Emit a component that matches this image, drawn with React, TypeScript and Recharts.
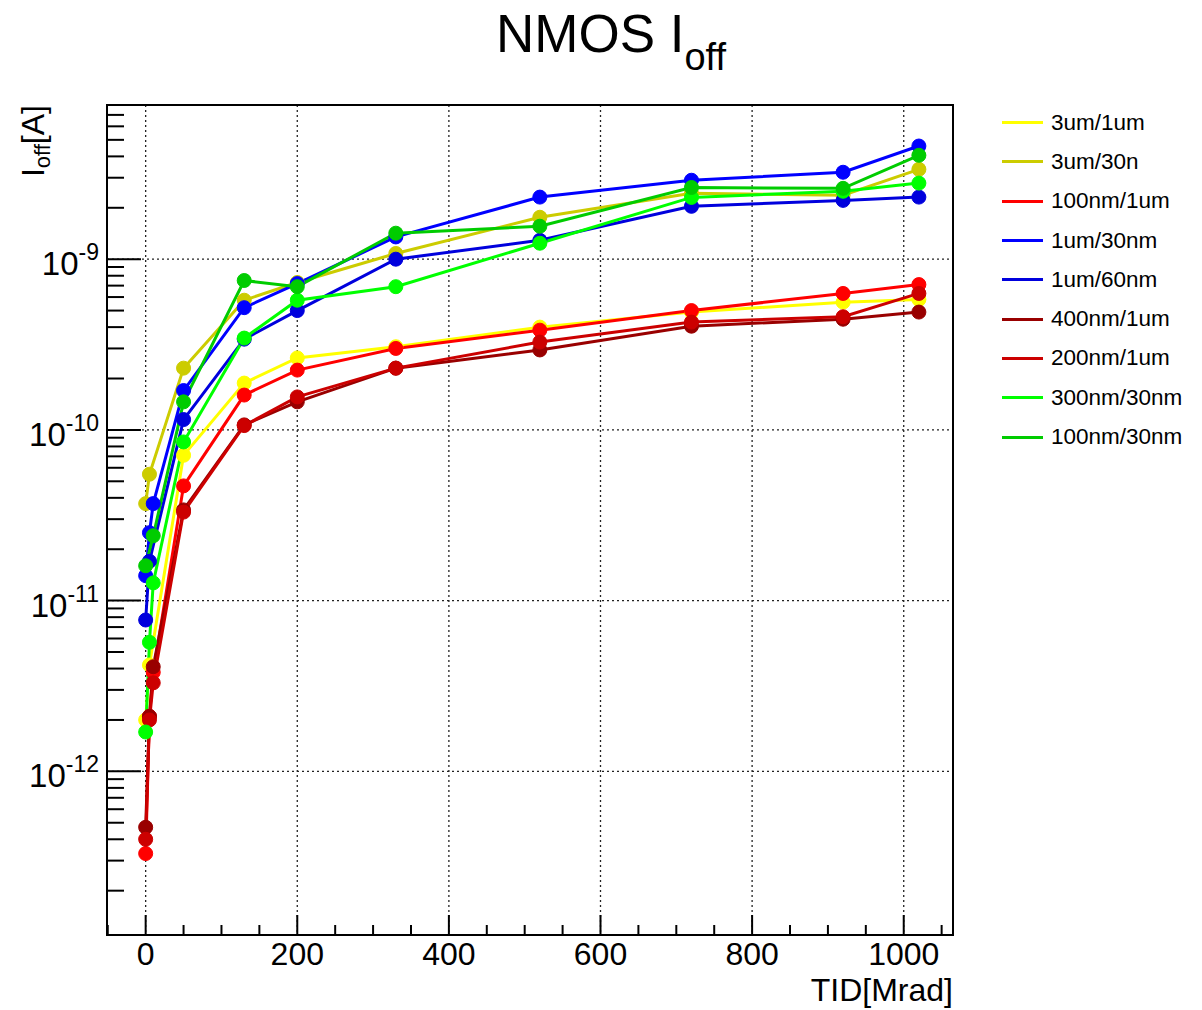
import React from 'react';
import { LineChart, Line, XAxis, YAxis, CartesianGrid, ReferenceArea, Legend } from 'recharts';

// TID steps [Mrad] used by the different devices
const tidA = [0, 5, 10, 50, 130, 200, 330, 520, 720, 920, 1020];
const tidB = [0, 5, 50, 130, 200, 330, 520, 720, 920, 1020];
const tidC = [0, 10, 50, 130, 200, 330, 520, 720, 920, 1020];

// Ioff [A]
const ioff3u1u = [2.0e-12, 4.2e-12, 7.1e-11, 1.88e-10, 2.64e-10, 3.07e-10, 4.0e-10, 4.9e-10, 5.6e-10, 5.8e-10];
const ioff3u30n = [3.7e-11, 5.5e-11, 2.3e-10, 5.75e-10, 7.3e-10, 1.08e-9, 1.76e-9, 2.43e-9, 2.37e-9, 3.36e-9];
const ioff100n1u = [3.3e-13, 2.1e-12, 3.8e-12, 4.7e-11, 1.6e-10, 2.24e-10, 3.0e-10, 3.84e-10, 5.0e-10, 6.3e-10, 7.1e-10];
const ioff1u30n = [1.4e-11, 2.5e-11, 3.7e-11, 1.7e-10, 5.2e-10, 7.2e-10, 1.35e-9, 2.31e-9, 2.9e-9, 3.23e-9, 4.6e-9];
const ioff1u60n = [7.7e-12, 1.7e-11, 1.15e-10, 3.4e-10, 5.0e-10, 1.0e-9, 1.29e-9, 2.04e-9, 2.21e-9, 2.31e-9];
const ioff400n1u = [4.7e-13, 2.1e-12, 4.1e-12, 3.4e-11, 1.07e-10, 1.46e-10, 2.3e-10, 2.94e-10, 4.05e-10, 4.45e-10, 4.9e-10];
const ioff200n1u = [4.0e-13, 2.0e-12, 3.3e-12, 3.3e-11, 1.06e-10, 1.56e-10, 2.3e-10, 3.27e-10, 4.28e-10, 4.6e-10, 6.3e-10];
const ioff300n30n = [1.7e-12, 5.7e-12, 1.27e-11, 8.5e-11, 3.45e-10, 5.75e-10, 6.9e-10, 1.24e-9, 2.3e-9, 2.5e-9, 2.79e-9];
const ioff100n30n = [1.6e-11, 2.4e-11, 1.46e-10, 7.5e-10, 6.9e-10, 1.42e-9, 1.56e-9, 2.63e-9, 2.6e-9, 4.06e-9];

const xMajorTicks = [0, 200, 400, 600, 800, 1000];
const xMinorTicks = [-50, 50, 100, 150, 250, 300, 350, 450, 500, 550, 650, 700, 750, 850, 900, 950, 1050];
const yMajorTicks = [1e-12, 1e-11, 1e-10, 1e-9];
const yDecades = [1e-13, 1e-12, 1e-11, 1e-10, 1e-9];
const yMinorMult = [2, 3, 4, 5, 6, 7, 8, 9];

const FONT = '"Liberation Sans", Arial, Helvetica, sans-serif';
const PLOT_LEFT = 107;
const PLOT_BOTTOM = 935;

const series = [
  { name: '3um/1um', color: '#ffff00', x: tidB, y: ioff3u1u },
  { name: '3um/30n', color: '#cccc00', x: tidB, y: ioff3u30n },
  { name: '100nm/1um', color: '#ff0000', x: tidA, y: ioff100n1u },
  { name: '1um/30nm', color: '#0000ff', x: tidA, y: ioff1u30n },
  { name: '1um/60nm', color: '#0000dd', x: tidB, y: ioff1u60n },
  { name: '400nm/1um', color: '#990000', x: tidA, y: ioff400n1u },
  { name: '200nm/1um', color: '#cc0000', x: tidA, y: ioff200n1u },
  { name: '300nm/30nm', color: '#00ff00', x: tidA, y: ioff300n30n },
  { name: '100nm/30nm', color: '#00cc00', x: tidC, y: ioff100n30n },
];

const yMinorTicks = yDecades.flatMap((d) => yMinorMult.map((m) => m * d)).filter((v) => v < 8.1e-9);
const yTicks = [...yMajorTicks, ...yMinorTicks].sort((a, b) => a - b);
const xTicks = [...xMajorTicks, ...xMinorTicks].sort((a, b) => a - b);

function XTick(props: any) {
  const { x, payload } = props;
  const major = xMajorTicks.includes(payload.value);
  return (
    <g>
      <line x1={x} x2={x} y1={PLOT_BOTTOM} y2={PLOT_BOTTOM - (major ? 20 : 10)} stroke="#000" strokeWidth={2} />
      {major && (
        <text x={x} y={PLOT_BOTTOM + 30} textAnchor="middle" fontFamily={FONT} fontSize={32} fill="#000">
          {payload.value}
        </text>
      )}
    </g>
  );
}

function YTick(props: any) {
  const { y, payload } = props;
  const major = yMajorTicks.includes(payload.value);
  const exp = Math.round(Math.log10(payload.value));
  return (
    <g>
      <line x1={PLOT_LEFT} x2={PLOT_LEFT + (major ? 34 : 17)} y1={y} y2={y} stroke="#000" strokeWidth={2} />
      {major && (
        <text x={PLOT_LEFT - 8} y={y + 16} textAnchor="end" fontFamily={FONT} fontSize={33} fill="#000">
          10
          <tspan dy={-15} fontSize={23}>{`-${-exp}`}</tspan>
        </text>
      )}
    </g>
  );
}

function LegendBox() {
  return (
    <div style={{ fontFamily: FONT, fontSize: 22.5, color: '#000' }}>
      {series.map((s) => (
        <div key={s.name} style={{ display: 'flex', alignItems: 'center', height: 39.3 }}>
          <div style={{ width: 41, height: 3, background: s.color, marginRight: 8 }} />
          <span>{s.name}</span>
        </div>
      ))}
    </div>
  );
}

export default function App() {
  return (
    <div style={{ position: 'absolute', left: 0, top: 0, width: 1202, height: 1010, background: '#fff' }}>
      <LineChart width={1202} height={1010} margin={{ top: 105, right: 249, bottom: 0, left: 7 }}>
        <CartesianGrid
          horizontalValues={yMajorTicks}
          verticalValues={xMajorTicks}
          stroke="#222"
          strokeWidth={1.3}
          strokeDasharray="2 3"
        />
        <XAxis
          dataKey="x"
          type="number"
          domain={[-51, 1065]}
          allowDataOverflow
          ticks={xTicks}
          interval={0}
          tick={<XTick />}
          tickLine={false}
          axisLine={false}
          tickSize={0}
          tickMargin={0}
          height={75}
        />
        <YAxis
          type="number"
          scale="log"
          domain={[1.1e-13, 8e-9]}
          allowDataOverflow
          ticks={yTicks}
          interval={0}
          tick={<YTick />}
          tickLine={false}
          axisLine={false}
          tickSize={0}
          tickMargin={0}
          width={100}
        />
        {series.map((s) => (
          <Line
            key={s.name}
            name={s.name}
            data={s.x.map((x, i) => ({ x, y: s.y[i] }))}
            dataKey="y"
            type="linear"
            stroke={s.color}
            strokeWidth={3}
            dot={{ r: 7, fill: s.color, stroke: s.color, strokeWidth: 1 }}
            isAnimationActive={false}
          />
        ))}
        <ReferenceArea
          x1={-51}
          x2={1065}
          y1={1.1e-13}
          y2={8e-9}
          fill="none"
          stroke="#000"
          strokeWidth={2}
          ifOverflow="visible"
        />
        <Legend
          layout="vertical"
          align="center"
          verticalAlign="middle"
          wrapperStyle={{ left: 1002, top: 103, width: 200 }}
          content={<LegendBox />}
        />
      </LineChart>
      <svg width={1202} height={1010} style={{ position: 'absolute', left: 0, top: 0, pointerEvents: 'none' }}>
        <text x={496} y={52} fontFamily={FONT} fontSize={53} fill="#000">
          NMOS I<tspan dy={18} fontSize={38}>off</tspan>
        </text>
        <text transform="translate(44,105) rotate(-90)" textAnchor="end" fontFamily={FONT} fontSize={32} fill="#000">
          I<tspan dy={6} fontSize={22}>off</tspan>
          <tspan dy={-6}>[A]</tspan>
        </text>
        <text x={953} y={1001} textAnchor="end" fontFamily={FONT} fontSize={32} fill="#000">
          TID[Mrad]
        </text>
      </svg>
    </div>
  );
}
